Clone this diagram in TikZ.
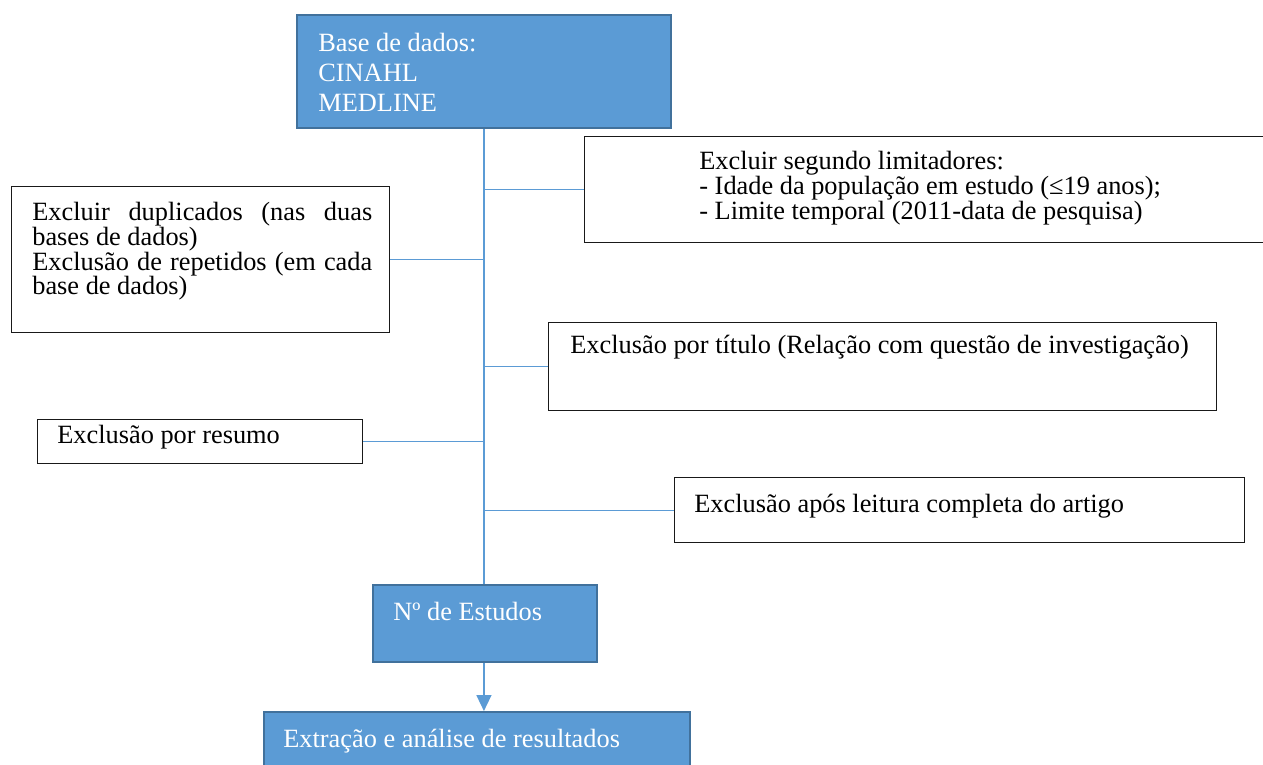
\documentclass[tikz,border=0pt]{standalone}
\usepackage{fontspec}
\setmainfont{Liberation Serif}
\usetikzlibrary{arrows.meta}
\definecolor{boxblue}{HTML}{5B9BD5}
\definecolor{boxedge}{HTML}{41719C}

\tikzset{
  bluebox/.style={draw=boxedge, line width=1.1pt, fill=boxblue, inner sep=0pt, anchor=north west},
  whitebox/.style={draw=black!90, line width=0.7pt, fill=white, inner sep=0pt, anchor=north west},
  bluetext/.style={text=white, font=\fontsize{15}{17}\selectfont, align=left, inner sep=0pt},
  boxtext/.style={font=\fontsize{15}{14.1}\selectfont, align=left, inner sep=0pt},
  spine/.style={draw=boxblue, line width=0.7pt},
}

\begin{document}
\begin{tikzpicture}[x=0.02cm, y=-0.02cm]
\useasboundingbox (0,0) rectangle (1263,764);

\node[bluebox, minimum width=7.48cm, minimum height=2.26cm] (db) at (296,14) {};
\node[whitebox, minimum width=13.82cm, minimum height=2.12cm] (lim) at (584,136) {};
\node[whitebox, minimum width=7.56cm, minimum height=2.92cm] (dup) at (11,186) {};
\node[whitebox, minimum width=13.36cm, minimum height=1.76cm] (tit) at (548,322) {};
\node[whitebox, minimum width=6.5cm, minimum height=0.88cm] (res) at (37,419) {};
\node[whitebox, minimum width=11.4cm, minimum height=1.3cm] (fin) at (674,477) {};
\node[bluebox, minimum width=4.48cm, minimum height=1.54cm] (nro) at (372,584) {};
\node[bluebox, minimum width=8.52cm, minimum height=1.28cm] (ext) at (263,711) {};

\node[bluetext, anchor=north west] (dbtxt) at (318,33) {Base de dados:\\CINAHL\\MEDLINE};
\node[boxtext, anchor=north west] (limtxt) at (699,151) {Excluir segundo limitadores:\\- Idade da população em estudo (≤19 anos);\\- Limite temporal (2011-data de pesquisa)};
\node[boxtext, anchor=north west, text width=6.8cm, align=justify] (duptxt) at (32,202) {Excluir duplicados (nas duas bases de dados)\\Exclusão de repetidos (em cada base de dados)};
\node[boxtext, anchor=base west] (tittxt) at (570,353) {Exclusão por título (Relação com questão de investigação)};
\node[boxtext, anchor=base west] (restxt) at (57,443) {Exclusão por resumo};
\node[boxtext, anchor=base west] (fintxt) at (694,512) {Exclusão após leitura completa do artigo};
\node[bluetext, anchor=base west] (nrotxt) at (393,620) {Nº de Estudos};
\node[bluetext, anchor=base west] (exttxt) at (283,747) {Extração e análise de resultados};

\draw[spine] (db.south) -- (db.south |- nro.north);
\draw[spine] (lim.west) -- (db.south |- lim.west);
\draw[spine] (dup.east) -- (db.south |- dup.east);
\draw[spine] (tit.west) -- (db.south |- tit.west);
\draw[spine] (res.east) -- (db.south |- res.east);
\draw[spine] (fin.west) -- (db.south |- fin.west);
\draw[spine, -{Triangle[width=8.5pt, length=9pt]}] (db.south |- nro.south) -- (db.south |- ext.north);

\end{tikzpicture}
\end{document}
